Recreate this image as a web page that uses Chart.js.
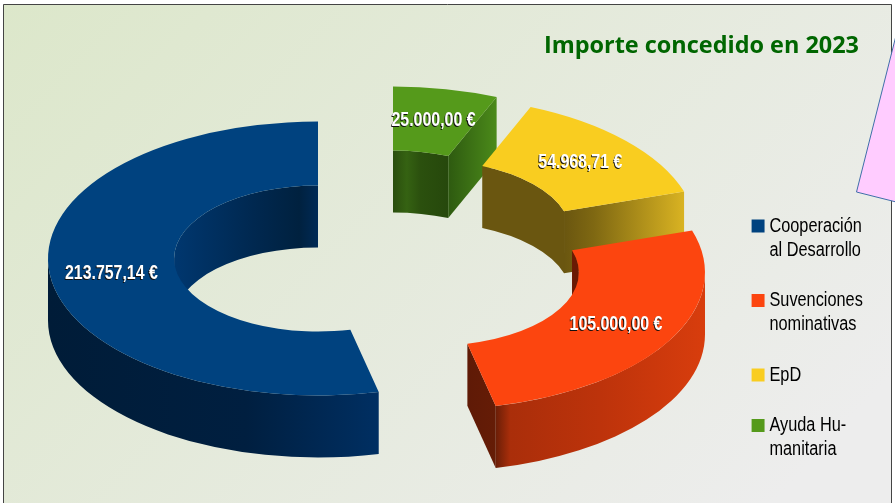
<!DOCTYPE html>
<html><head><meta charset="utf-8">
<style>html,body{margin:0;padding:0;background:#fff}canvas{display:block}</style>
<script src="https://cdn.jsdelivr.net/npm/chart.js@4"></script></head>
<body><canvas id="c" width="895" height="503"></canvas>
<script>
// Drawn clockwise from the top, so the list is the legend order reversed.
const categories = ['Ayuda Humanitaria', 'EpD', 'Suvenciones nominativas', 'Cooperación al Desarrollo'];
const values = [25000.00, 54968.71, 105000.00, 213757.14];
const legendLines = [['Ayuda Hu-', 'manitaria'], ['EpD'], ['Suvenciones', 'nominativas'], ['Cooperación', 'al Desarrollo']];
const colors = ['#559a1b', '#f9cd20', '#fc450f', '#00427f'];
const chartTitle = 'Importe concedido en 2023';

const SANS = '"Liberation Sans",sans-serif';
const SQUEEZE = 0.815; // the reference text is horizontally condensed
const view = {cx: 318, cy: 258.5, rx: 270, ry: 137, depth: 62};
const explode = [[75, -35], [109, -25], [117, 14], [0, 0]];
const labelNudge = [[0, 0], [1, 0], [1, 0], [-1, 3]];
const paintOrder = [0, 1, 3, 2];

const lin = (ctx, x1, x2, stops) => {
  const g = ctx.createLinearGradient(x1, 0, x2, 0);
  stops.forEach(([p, c]) => g.addColorStop(p, c));
  return g;
};
const wallStops = [
  {inner: [[0, '#2a4e0e'], [.25, '#356212'], [.5, '#2b500e'], [1, '#26480c']], end: [[0, '#2e5a10'], [1, '#4b8a1a']]},
  {inner: [[0, '#6a5610'], [1, '#6a5610']], end: [[0, '#6a5610'], [.25, '#7f6812'], [1, '#d9b322']]},
  {inner: [[0, '#6a1a04'], [1, '#6a1a04']], outer: [[0, '#6a1e07'], [.07, '#aa2e0a'], [.5, '#bd330b'], [1, '#d83d0d']], end: [[0, '#5f1a06'], [1, '#651c06']]},
  {inner: [[0, '#00376f'], [.55, '#002850'], [.87, '#00213f'], [1, '#002a56']], outer: [[0, '#001c38'], [.6, '#001f40'], [1, '#002f62']]}
];

function wall(ctx, x, y, rx, ry, a1, a2, fill) {
  if (a2 <= a1) return;
  const d = view.depth;
  ctx.beginPath();
  ctx.ellipse(x, y, rx, ry, 0, a1, a2, false);
  ctx.ellipse(x, y + d, rx, ry, 0, a2, a1, true);
  ctx.closePath();
  ctx.fillStyle = fill;
  ctx.fill();
}
const xAt = (x, rx, a) => x + rx * Math.cos(a);

const extrude = {
  id: 'extrude',
  afterLayout(chart) {
    const lg = chart.legend;
    lg.left = 899.7; lg.right = 1400; lg.top = 189.5; lg.bottom = 503;
    if (!lg._squeezed) {
      lg._squeezed = true;
      const orig = lg.draw;
      lg.draw = function (a) {
        const c = this.ctx;
        c.save();
        c.scale(SQUEEZE, 1);
        orig.call(this, a);
        c.restore();
      };
    }
  },
  beforeDraw(chart) {
    const ctx = chart.ctx;
    ctx.save();
    ctx.fillStyle = '#fff';
    ctx.fillRect(0, 0, 895, 503);
    const g = ctx.createLinearGradient(60, -60, 720, 560);
    g.addColorStop(0, '#dce7ca');
    g.addColorStop(1, '#ededed');
    ctx.fillStyle = g;
    ctx.fillRect(3, 4, 889, 499);
    ctx.strokeStyle = '#444';
    ctx.lineWidth = 1;
    ctx.beginPath();
    ctx.moveTo(3.5, 503); ctx.lineTo(3.5, 4.5); ctx.lineTo(891.5, 4.5); ctx.lineTo(891.5, 503);
    ctx.stroke();
    ctx.beginPath();
    ctx.moveTo(905, 0); ctx.lineTo(856.5, 192); ctx.lineTo(920, 208);
    ctx.closePath();
    ctx.fillStyle = '#ffccff';
    ctx.fill();
    ctx.strokeStyle = '#3f6fa8';
    ctx.stroke();
    ctx.restore();
  },
  beforeDatasetsDraw(chart) {
    const ctx = chart.ctx;
    const arcs = chart.getDatasetMeta(0).data;
    paintOrder.forEach(i => {
      const arc = arcs[i];
      const p = arc.getProps(['x', 'y', 'startAngle', 'endAngle', 'innerRadius', 'outerRadius'], true);
      const sx = view.rx / p.outerRadius, sy = view.ry / p.outerRadius;
      const x = view.cx + explode[i][0], y = view.cy + explode[i][1];
      const irx = p.innerRadius * sx, iry = p.innerRadius * sy;
      const s = p.startAngle, e = p.endAngle, st = wallStops[i];
      [[-Math.PI / 2, 0], [Math.PI, 1.5 * Math.PI]].forEach(([lo, hi]) => {
        const a1 = Math.max(s, lo), a2 = Math.min(e, hi);
        if (a2 > a1 && st.inner) {
          const xa = xAt(x, irx, a1), xb = xAt(x, irx, a2);
          wall(ctx, x, y, irx, iry, a1, a2, lin(ctx, Math.min(xa, xb), Math.max(xa, xb), st.inner));
        }
      });
      if (st.outer) {
        const a1 = Math.max(s, 0), a2 = Math.min(e, Math.PI);
        const xa = xAt(x, view.rx, a1), xb = xAt(x, view.rx, a2);
        wall(ctx, x, y, view.rx, view.ry, a1, a2, lin(ctx, Math.min(xa, xb), Math.max(xa, xb), st.outer));
      }
      if (st.end && Math.cos(e) > 0.001) {
        const ix = x + irx * Math.cos(e), iy = y + iry * Math.sin(e);
        const ox = x + view.rx * Math.cos(e), oy = y + view.ry * Math.sin(e);
        ctx.beginPath();
        ctx.moveTo(ix, iy); ctx.lineTo(ox, oy); ctx.lineTo(ox, oy + view.depth); ctx.lineTo(ix, iy + view.depth);
        ctx.closePath();
        ctx.fillStyle = lin(ctx, Math.min(ix, ox), Math.max(ix, ox), st.end);
        ctx.fill();
      }
      ctx.save();
      ctx.translate(x, y);
      ctx.scale(sx, sy);
      ctx.translate(-p.x, -p.y);
      arc.draw(ctx);
      ctx.restore();
    });
    return false;
  },
  afterDraw(chart) {
    const ctx = chart.ctx;
    const arcs = chart.getDatasetMeta(0).data;
    const fmt = new Intl.NumberFormat('es-ES', {minimumFractionDigits: 2, maximumFractionDigits: 2, useGrouping: 'always'});
    ctx.save();
    ctx.font = 'bold 19.5px ' + SANS;
    ctx.textAlign = 'center';
    ctx.textBaseline = 'middle';
    arcs.forEach((arc, i) => {
      const p = arc.getProps(['x', 'y', 'outerRadius'], true);
      const c = arc.getCenterPoint(true);
      const sx = view.rx / p.outerRadius, sy = view.ry / p.outerRadius;
      const tx = view.cx + explode[i][0] + (c.x - p.x) * sx + labelNudge[i][0];
      const ty = view.cy + explode[i][1] + (c.y - p.y) * sy + labelNudge[i][1];
      const txt = fmt.format(values[i]) + ' €';
      ctx.save();
      ctx.translate(tx, ty);
      ctx.scale(SQUEEZE, 1);
      ctx.fillStyle = '#101010';
      ctx.fillText(txt, -1, 1);
      ctx.fillStyle = '#fff';
      ctx.fillText(txt, 0, 0);
      ctx.restore();
    });
    ctx.restore();
  }
};

new Chart(document.getElementById('c'), {
  type: 'doughnut',
  data: {labels: categories, datasets: [{data: values, backgroundColor: colors, borderWidth: 0}]},
  plugins: [extrude],
  options: {
    responsive: false,
    animation: false,
    cutout: '53.3%',
    layout: {padding: {right: 36}},
    plugins: {
      tooltip: {enabled: false},
      title: {
        display: true, text: chartTitle, align: 'end', color: '#006600',
        font: {family: '"Open Sans",sans-serif', size: 23.45, weight: 'bold'},
        padding: {top: 32, bottom: 10}
      },
      legend: {
        position: 'right', align: 'start',
        labels: {
          boxWidth: 7.9, boxHeight: 5, padding: 26.5, color: '#222',
          font: {family: SANS, size: 20, lineHeight: 1.2},
          generateLabels: () => legendLines.map((t, i) => ({
            text: t, fillStyle: colors[i], strokeStyle: colors[i], lineWidth: 8, hidden: false, index: i, datasetIndex: 0
          })).reverse()
        }
      }
    }
  }
});
</script></body></html>
